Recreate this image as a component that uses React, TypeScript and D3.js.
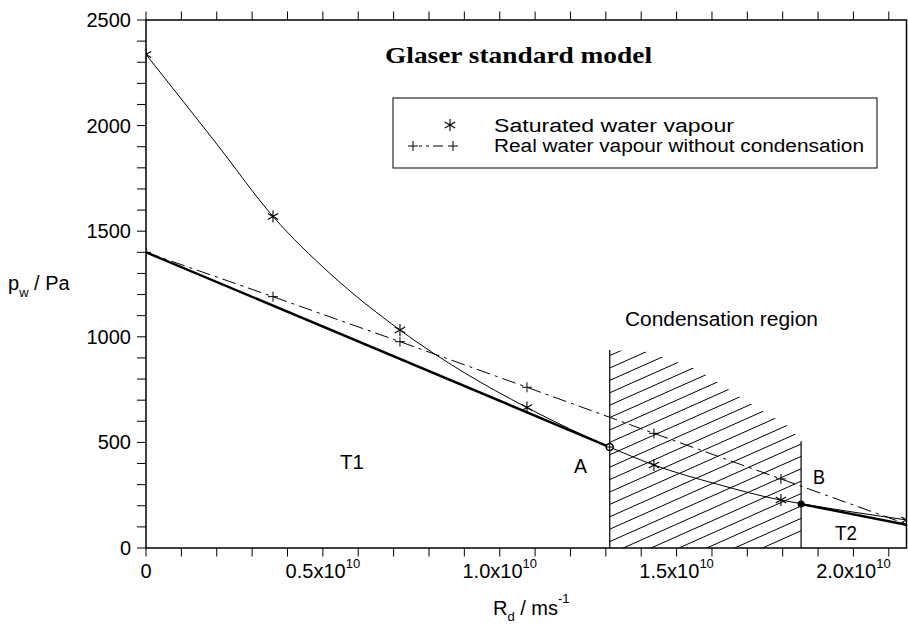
import React from 'react';
import * as d3 from 'd3';

// R_d in units of 1e10 m/s
const satR = [0, 0.359, 0.718, 1.077, 1.436, 1.795, 2.15];
const satP = [2337, 1570, 1032, 665, 393, 227, 133];
// points (markers plus in-between readings)
const satCurveR = [0, 0.2, 0.359, 0.52, 0.718, 0.9, 1.077, 1.311, 1.436, 1.615, 1.795, 1.852, 2.15];
const satCurveP = [2337, 1913, 1570, 1300, 1032, 830, 665, 478, 393, 302, 227, 210, 133];
const realR = [0, 0.359, 0.718, 1.077, 1.436, 1.795, 2.15];
const realP = [1400, 1190, 977, 761, 543, 327, 113];
const t1R = [0, 1.311];
const t1P = [1400, 478];
const t2R = [1.852, 2.15];
const t2P = [208, 110];
const pointA = { r: 1.311, p: 478 };
const pointB = { r: 1.852, p: 208 };
const hatchR = [1.311, 1.421, 1.556, 1.72, 1.819, 1.852, 1.852, 1.311];
const hatchP = [937, 928, 848, 672, 573, 505, 0, 0];
const xMinorTicks = d3.range(0, 22).map((d) => d / 10);
const xLabelTicks = [0, 0.5, 1.0, 1.5, 2.0];
const yMinorTicks = d3.range(0, 2600, 100);
const yLabelTicks = [0, 500, 1000, 1500, 2000, 2500];

const W = 908;
const H = 627;
const L = 146;
const R = 906.5;
const T = 20;
const B = 548;

const sans = 'Liberation Sans, Arial, Helvetica, sans-serif';
const serif = 'Liberation Serif, Times New Roman, serif';

function asteriskPath(cx: number, cy: number, r: number) {
  const c = Math.cos(Math.PI / 6) * r;
  const s = Math.sin(Math.PI / 6) * r;
  return `M${cx},${cy - r}L${cx},${cy + r}M${cx - c},${cy - s}L${cx + c},${cy + s}M${cx - c},${cy + s}L${cx + c},${cy - s}`;
}
function plusPath(cx: number, cy: number, r: number) {
  return `M${cx - r},${cy}L${cx + r},${cy}M${cx},${cy - r}L${cx},${cy + r}`;
}

export default function App() {
  const x = d3.scaleLinear().domain([0, 2.15]).range([L, R]);
  const y = d3.scaleLinear().domain([0, 2500]).range([B, T]);

  const satPts = satR.map((r, i) => [r, satP[i]] as [number, number]);
  const satCurvePts = satCurveR.map((r, i) => [r, satCurveP[i]] as [number, number]);
  const realPts = realR.map((r, i) => [r, realP[i]] as [number, number]);
  const line = d3
    .line<[number, number]>()
    .x((d) => x(d[0]))
    .y((d) => y(d[1]));
  const curve = d3
    .line<[number, number]>()
    .x((d) => x(d[0]))
    .y((d) => y(d[1]))
    .curve(d3.curveMonotoneX);

  const hatchPoly = hatchR.map((r, i) => `${x(r)},${y(hatchP[i])}`).join(' ');

  // hatch lines
  const xa = x(pointA.r);
  const xb = x(pointB.r);
  const slope = Math.tan((24 * Math.PI) / 180);
  const spacing = 12.4;
  const hatchLines: JSX.Element[] = [];
  for (let k = -5; k < 40; k++) {
    const y0 = y(0) + 6 - k * spacing; // y at xa
    hatchLines.push(
      <line key={k} x1={xa} y1={y0} x2={xb} y2={y0 - slope * (xb - xa)} stroke="#000" strokeWidth={1} />
    );
  }

  return (
    <svg width={W} height={H} style={{ position: 'absolute', left: 0, top: 0, background: '#fff' }}>
      <defs>
        <clipPath id="plot">
          <rect x={L} y={T - 2} width={R - L} height={B - T + 2} />
        </clipPath>
        <clipPath id="hatch">
          <polygon points={hatchPoly} />
        </clipPath>
      </defs>
      <rect width={W} height={H} fill="#fff" />

      {/* hatch */}
      <g clipPath="url(#hatch)">{hatchLines}</g>
      <line x1={xa} y1={y(0)} x2={xa} y2={y(hatchP[0])} stroke="#000" strokeWidth={1.2} />
      <line x1={xb} y1={y(0)} x2={xb} y2={y(hatchP[5])} stroke="#000" strokeWidth={1.2} />

      <g clipPath="url(#plot)">
        {/* real water vapour without condensation */}
        <path d={line(realPts) || ''} fill="none" stroke="#000" strokeWidth={1} strokeDasharray="14,5,3,5" />
        {realPts.map((d, i) => (
          <path key={'p' + i} d={plusPath(x(d[0]), y(d[1]), 5)} stroke="#000" strokeWidth={1} fill="none" />
        ))}
        {/* saturated */}
        <path d={curve(satCurvePts) || ''} fill="none" stroke="#000" strokeWidth={1} />
        {satPts.map((d, i) => (
          <path key={'a' + i} d={asteriskPath(x(d[0]), y(d[1]), 6)} stroke="#000" strokeWidth={1.1} fill="none" />
        ))}
        {/* T1, T2 */}
        <path
          d={line(t1R.map((r, i) => [r, t1P[i]] as [number, number])) || ''}
          fill="none"
          stroke="#000"
          strokeWidth={2.4}
        />
        <path
          d={line(t2R.map((r, i) => [r, t2P[i]] as [number, number])) || ''}
          fill="none"
          stroke="#000"
          strokeWidth={2.4}
        />
      </g>

      {/* A, B points */}
      <circle cx={x(pointA.r)} cy={y(pointA.p)} r={3.5} fill="#fff" stroke="#000" strokeWidth={1.5} />
      <path d={plusPath(x(pointA.r), y(pointA.p), 3)} stroke="#000" strokeWidth={1} />
      <circle cx={x(pointB.r)} cy={y(pointB.p)} r={3.5} fill="#000" />

      {/* frame */}
      <rect x={L} y={T} width={R - L} height={B - T} fill="none" stroke="#000" strokeWidth={1.5} />

      {/* x ticks bottom & top */}
      {xMinorTicks.map((t) => (
        <g key={'xt' + t}>
          <line x1={x(t)} x2={x(t)} y1={B} y2={B + 8.5} stroke="#000" strokeWidth={1} />
          <line x1={x(t)} x2={x(t)} y1={T} y2={T - 8.5} stroke="#000" strokeWidth={1} />
        </g>
      ))}
      {xLabelTicks.map((t) => (
        <text key={'xl' + t} x={x(t)} y={577.5} textAnchor="middle" fontFamily={sans} fontSize={20} fill="#000">
          {t === 0 ? (
            '0'
          ) : (
            <>
              {t.toFixed(1) + 'x10'}
              <tspan fontSize={13} dy={-10}>
                10
              </tspan>
            </>
          )}
        </text>
      ))}

      {/* y ticks */}
      {yMinorTicks.map((t) => (
        <line key={'yt' + t} x1={L - 9} x2={L} y1={y(t)} y2={y(t)} stroke="#000" strokeWidth={1} />
      ))}
      {yLabelTicks.map((t) => (
        <text key={'yl' + t} x={131} y={y(t) + 7} textAnchor="end" fontFamily={sans} fontSize={20} fill="#000">
          {t}
        </text>
      ))}

      {/* axis titles */}
      <text x={8} y={290} fontFamily={sans} fontSize={20} fill="#000">
        p
        <tspan fontSize={13} dy={7}>
          w
        </tspan>
        <tspan dy={-7}> / Pa</tspan>
      </text>
      <text x={493} y={615} fontFamily={sans} fontSize={20} fill="#000">
        R
        <tspan fontSize={13} dy={6}>
          d
        </tspan>
        <tspan dy={-6}> / ms</tspan>
        <tspan fontSize={13} dy={-12}>
          -1
        </tspan>
      </text>

      {/* title */}
      <text x={385} y={62.5} fontFamily={serif} fontWeight="bold" fontSize={24} textLength={267} lengthAdjust="spacingAndGlyphs" fill="#000">
        Glaser standard model
      </text>

      {/* legend */}
      <rect x={393} y={98} width={484} height={70} fill="#fff" stroke="#000" strokeWidth={1} />
      <path d={asteriskPath(450, 125, 6)} stroke="#000" strokeWidth={1.1} fill="none" />
      <text x={494} y={131.5} fontFamily={sans} fontSize={18} textLength={240} lengthAdjust="spacingAndGlyphs" fill="#000">
        Saturated water vapour
      </text>
      <path d={plusPath(413, 146, 5)} stroke="#000" strokeWidth={1} />
      <path d={plusPath(453, 146, 5)} stroke="#000" strokeWidth={1} />
      <line x1={419} x2={447} y1={146} y2={146} stroke="#000" strokeWidth={1} strokeDasharray="3,4,3,4,10,20" />
      <text x={494} y={152} fontFamily={sans} fontSize={18} textLength={370} lengthAdjust="spacingAndGlyphs" fill="#000">
        Real water vapour without condensation
      </text>

      {/* annotations */}
      <text x={625} y={326} fontFamily={sans} fontSize={20} textLength={193} lengthAdjust="spacingAndGlyphs" fill="#000">
        Condensation region
      </text>
      <text x={574} y={473} fontFamily={sans} fontSize={21} textLength={13} lengthAdjust="spacingAndGlyphs" fill="#000">
        A
      </text>
      <text x={813} y={484} fontFamily={sans} fontSize={21} textLength={12} lengthAdjust="spacingAndGlyphs" fill="#000">
        B
      </text>
      <text x={340} y={469} fontFamily={sans} fontSize={21} textLength={24} lengthAdjust="spacingAndGlyphs" fill="#000">
        T1
      </text>
      <text x={835} y={540} fontFamily={sans} fontSize={21} textLength={22} lengthAdjust="spacingAndGlyphs" fill="#000">
        T2
      </text>
    </svg>
  );
}
